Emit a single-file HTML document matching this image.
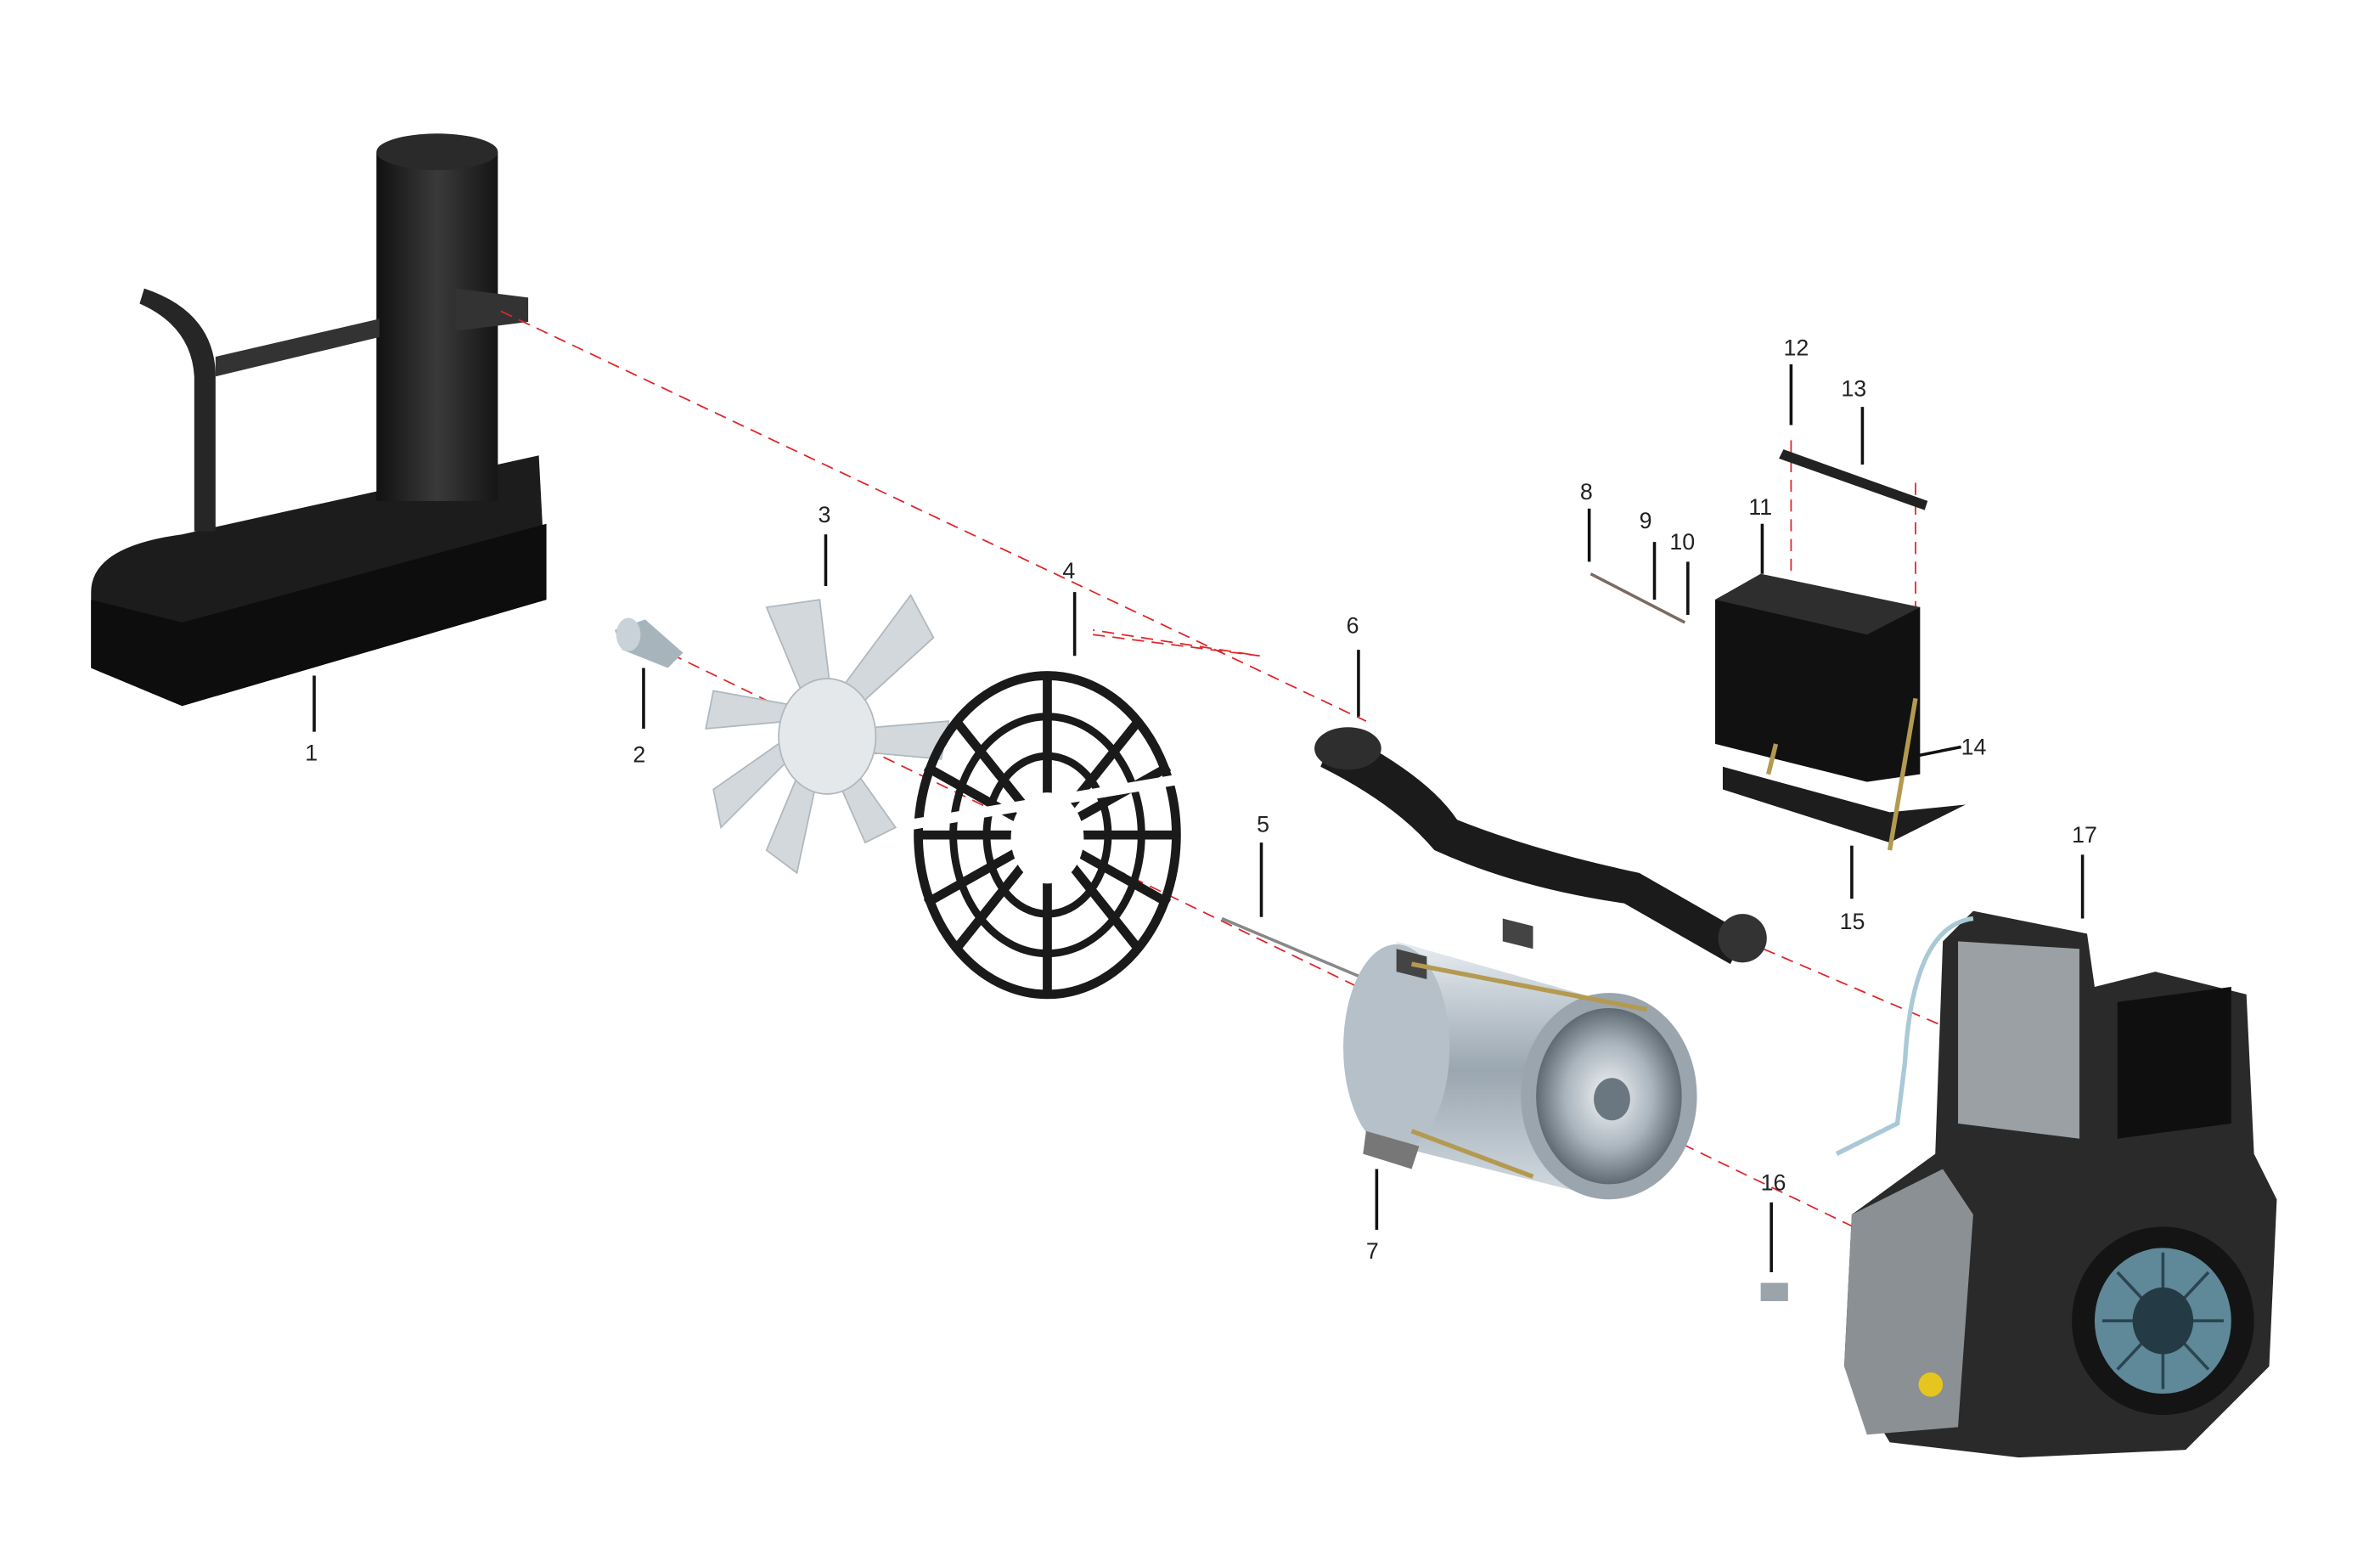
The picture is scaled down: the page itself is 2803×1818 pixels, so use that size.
<!DOCTYPE html>
<html><head><meta charset="utf-8"><style>
html,body{margin:0;padding:0;background:#fff;}
svg{display:block;}
text{font-family:"Liberation Sans",sans-serif;font-size:15px;fill:#222;}
</style></head><body>
<svg width="2803" height="1818" viewBox="0 0 1568 1017" preserveAspectRatio="none" xmlns="http://www.w3.org/2000/svg">
<defs>
<linearGradient id="blk" x1="0" x2="1"><stop offset="0" stop-color="#111"/><stop offset=".5" stop-color="#3a3a3a"/><stop offset="1" stop-color="#151515"/></linearGradient>
<linearGradient id="sil" x1="0" x2="0" y1="0" y2="1"><stop offset="0" stop-color="#e8eef3"/><stop offset=".5" stop-color="#9aa6b0"/><stop offset="1" stop-color="#d5dde3"/></linearGradient>
<radialGradient id="face"><stop offset="0" stop-color="#f4f6f8"/><stop offset=".6" stop-color="#a9b4bd"/><stop offset="1" stop-color="#5f6a73"/></radialGradient>
</defs>
<!-- muffler -->
<path d="M60 390 Q60 360 120 352 L355 300 L360 395 L120 465 L60 440Z" fill="#1c1c1c"/>
<path d="M60 395 L120 410 L360 345 L360 395 L120 465 L60 440Z" fill="#0d0d0d"/>
<rect x="248" y="100" width="80" height="230" fill="url(#blk)"/>
<ellipse cx="288" cy="100" rx="40" ry="12" fill="#2a2a2a"/>
<path d="M300 190 L348 196 L348 212 L300 218Z" fill="#333"/>
<path d="M95 190 Q140 205 142 245 L142 350 L128 350 L128 248 Q126 215 92 200Z" fill="#262626"/>
<path d="M142 235 L250 210 L250 222 L142 248Z" fill="#333"/>
<!-- red dashed lines -->
<g stroke="#e0262a" stroke-width="1" stroke-dasharray="8,5" fill="none">
<path d="M330 205 L900 475"/><path d="M720 418 L830 432 L720 415"/>
<path d="M430 425 L1070 735 L1225 810"/>
<path d="M1150 620 L1290 680"/>
<path d="M1130 430 L1215 410"/><path d="M1180 290 L1180 380"/><path d="M1262 318 L1262 450"/>
</g>
<!-- bolt 2 -->
<path d="M405 415 L425 408 L450 430 L440 440 L410 428Z" fill="#a8b4bc"/>
<ellipse cx="414" cy="418" rx="8" ry="11" fill="#c9d2d8"/>
<!-- fan 3 -->
<g fill="#d3d8dc" stroke="#b0b8be" stroke-width="1">
<path d="M530 460 L505 400 L540 395 L548 462Z"/>
<path d="M548 462 L600 392 L615 420 L560 470Z"/>
<path d="M565 480 L625 475 L620 500 L565 495Z"/>
<path d="M558 500 L590 545 L570 555 L548 505Z"/>
<path d="M540 505 L525 575 L505 560 L530 500Z"/>
<path d="M525 495 L475 545 L470 520 L520 485Z"/>
<path d="M520 475 L465 480 L470 455 L525 465Z"/>
<ellipse cx="545" cy="485" rx="32" ry="38" fill="#e4e8eb"/>
</g>
<!-- grille 4 -->
<g fill="none" stroke="#1a1a1a" stroke-width="6">
<ellipse cx="690" cy="550" rx="85" ry="105"/>
<ellipse cx="690" cy="550" rx="62" ry="78" stroke-width="5"/>
<ellipse cx="690" cy="550" rx="40" ry="52" stroke-width="5"/>
<path d="M690 445 L690 655 M605 550 L775 550 M630 475 L750 625 M750 475 L630 625 M610 505 L770 595 M610 595 L770 505"/>
</g>
<ellipse cx="690" cy="552" rx="24" ry="30" fill="#fff"/>
<path d="M598 540 L788 508 L788 515 L598 547Z" fill="#fff"/>
<!-- pipe 6 -->
<path d="M880 480 Q940 510 960 540 Q1010 560 1080 575 L1150 615 L1140 635 L1070 595 Q1000 585 945 560 Q920 530 870 505Z" fill="#1b1b1b"/>
<ellipse cx="888" cy="493" rx="22" ry="14" fill="#2e2e2e"/>
<ellipse cx="1148" cy="618" rx="16" ry="16" fill="#333"/>
<!-- alternator -->
<line x1="805" y1="605" x2="900" y2="645" stroke="#888" stroke-width="2"/>
<path d="M920 620 L1060 660 L1060 790 L920 755Z" fill="url(#sil)"/>
<ellipse cx="920" cy="690" rx="35" ry="68" fill="#b5c0c8"/>
<ellipse cx="1060" cy="722" rx="58" ry="68" fill="#9aa5ae"/>
<ellipse cx="1060" cy="722" rx="48" ry="58" fill="url(#face)"/>
<ellipse cx="1062" cy="724" rx="12" ry="14" fill="#6b7780"/>
<path d="M900 745 L935 755 L930 770 L898 760Z" fill="#777"/>
<path d="M990 605 L1010 610 L1010 625 L990 620Z" fill="#444"/>
<path d="M920 625 L940 630 L940 645 L920 640Z" fill="#444"/>
<line x1="930" y1="635" x2="1085" y2="665" stroke="#b49a50" stroke-width="3"/>
<line x1="930" y1="745" x2="1010" y2="775" stroke="#b49a50" stroke-width="3"/>
<!-- battery -->
<path d="M1135 505 L1245 535 L1295 530 L1245 555 L1135 520Z" fill="#1d1d1d"/>
<path d="M1130 395 L1160 378 L1265 400 L1265 510 L1230 515 L1130 490Z" fill="#111"/>
<path d="M1130 395 L1160 378 L1265 400 L1230 418Z" fill="#2e2e2e"/>
<line x1="1245" y1="560" x2="1262" y2="460" stroke="#b49a50" stroke-width="3"/>
<line x1="1165" y1="510" x2="1170" y2="490" stroke="#b49a50" stroke-width="3"/>
<path d="M1175 296 L1270 330 L1268 336 L1172 302Z" fill="#222"/>
<line x1="1048" y1="378" x2="1110" y2="410" stroke="#7a6a60" stroke-width="2"/>
<!-- engine -->
<path d="M1280 620 L1300 600 L1375 615 L1380 650 L1420 640 L1480 655 L1485 760 L1500 790 L1495 900 L1440 955 L1330 960 L1245 950 L1215 900 L1220 800 L1275 760Z" fill="#2a2a2a"/>
<path d="M1290 620 L1370 625 L1370 750 L1290 740Z" fill="#9aa0a4"/>
<path d="M1220 800 L1280 770 L1300 800 L1290 940 L1230 945 L1215 900Z" fill="#8a9094"/>
<ellipse cx="1425" cy="870" rx="60" ry="62" fill="#141414"/>
<ellipse cx="1425" cy="870" rx="45" ry="48" fill="#5f8898"/>
<g stroke="#2a4450" stroke-width="2"><line x1="1385" y1="870" x2="1465" y2="870"/><line x1="1425" y1="825" x2="1425" y2="915"/><line x1="1395" y1="838" x2="1455" y2="902"/><line x1="1455" y1="838" x2="1395" y2="902"/></g>
<ellipse cx="1425" cy="870" rx="20" ry="22" fill="#243a44"/>
<path d="M1395 660 L1470 650 L1470 740 L1395 750Z" fill="#0f0f0f"/>
<circle cx="1272" cy="912" r="8" fill="#e7c51f"/>
<path d="M1300 605 Q1260 610 1255 700 L1250 740 L1210 760" fill="none" stroke="#a9c9d6" stroke-width="3"/>
<rect x="1160" y="845" width="18" height="12" fill="#9aa4aa"/>
<!-- leader lines -->
<g stroke="#111" stroke-width="2">
<line x1="207" y1="445" x2="207" y2="482"/>
<line x1="424" y1="440" x2="424" y2="480"/>
<line x1="544" y1="352" x2="544" y2="386"/>
<line x1="708" y1="390" x2="708" y2="432"/>
<line x1="831" y1="555" x2="831" y2="604"/>
<line x1="895" y1="428" x2="895" y2="472"/>
<line x1="907" y1="770" x2="907" y2="810"/>
<line x1="1047" y1="335" x2="1047" y2="370"/>
<line x1="1090" y1="357" x2="1090" y2="395"/>
<line x1="1112" y1="370" x2="1112" y2="405"/>
<line x1="1161" y1="345" x2="1161" y2="378"/>
<line x1="1180" y1="240" x2="1180" y2="280"/>
<line x1="1227" y1="268" x2="1227" y2="306"/>
<line x1="1262" y1="498" x2="1292" y2="492"/>
<line x1="1220" y1="557" x2="1220" y2="592"/>
<line x1="1167" y1="792" x2="1167" y2="838"/>
<line x1="1372" y1="563" x2="1372" y2="605"/>
</g>
<text x="201" y="501">1</text><text x="417" y="502">2</text><text x="539" y="344">3</text>
<text x="700" y="381">4</text><text x="828" y="548">5</text><text x="887" y="417">6</text>
<text x="900" y="829">7</text><text x="1041" y="329">8</text><text x="1080" y="348">9</text>
<text x="1100" y="362">10</text><text x="1152" y="339">11</text><text x="1175" y="234">12</text>
<text x="1213" y="261">13</text><text x="1292" y="497">14</text><text x="1212" y="612">15</text>
<text x="1160" y="784">16</text><text x="1365" y="555">17</text>
</svg>
</body></html>
